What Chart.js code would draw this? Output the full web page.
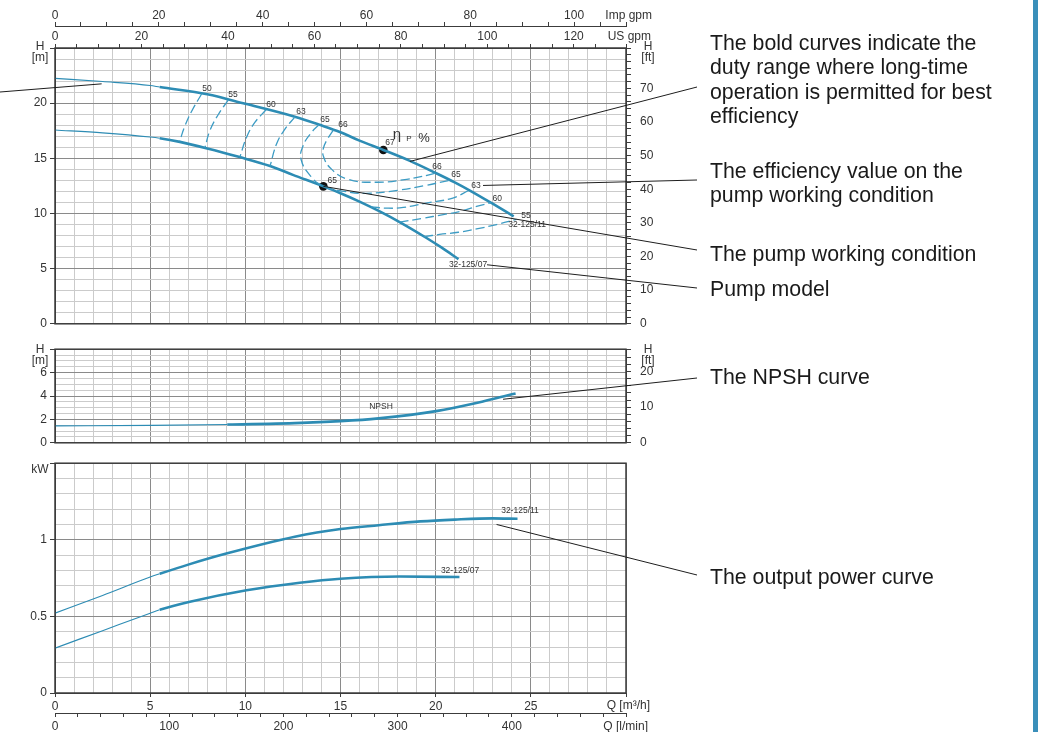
<!DOCTYPE html>
<html><head><meta charset="utf-8">
<script src="https://cdn.jsdelivr.net/npm/chart.js@4.4.1/dist/chart.umd.min.js"></script>
<style>
body{margin:0;background:#fff;width:1038px;height:732px;overflow:hidden;position:relative;font-family:"Liberation Sans",Arial,Helvetica,sans-serif;}
canvas{position:absolute;left:0;}
.note{position:absolute;left:710px;font-size:21.3px;line-height:24.3px;color:#1a1a1a;white-space:nowrap;}
#bar{position:absolute;left:1033px;top:0;width:5px;height:732px;background:#3a8fba;}
</style></head><body>
<canvas id="c1" width="1038" height="340" style="top:0px"></canvas>
<canvas id="c2" width="1038" height="126" style="top:333px"></canvas>
<canvas id="c3" width="1038" height="279" style="top:453px"></canvas>
<div class="note" style="top:31px">The bold curves indicate the<br>duty range where long-time<br>operation is permitted for best<br>efficiency</div>
<div class="note" style="top:159px">The efficiency value on the<br>pump working condition</div>
<div class="note" style="top:242px">The pump working condition</div>
<div class="note" style="top:277px">Pump model</div>
<div class="note" style="top:365px">The NPSH curve</div>
<div class="note" style="top:565px">The output power curve</div>
<div id="bar"></div>
<script>
// ---------------- data ----------------
// Q in m3/h, H in m
const Q11 = [0, 2.5, 5, 5.5, 8, 10, 12.6, 13.9, 15, 16, 17.25, 18.65, 20.06, 21, 21.8, 22.95, 24.1];
const H11 = [22.25, 21.96, 21.6, 21.46, 20.8, 19.94, 18.77, 18.04, 17.37, 16.6, 15.76, 14.77, 13.62, 12.82, 12.08, 10.93, 9.74];
const Q07 = [0, 2.5, 5, 5.5, 6.56, 8, 9.7, 11.3, 12.5, 14.1, 15, 16, 17.06, 18.13, 19.5, 20.3, 21.2];
const H07 = [17.57, 17.31, 16.93, 16.82, 16.49, 15.9, 15.11, 14.3, 13.5, 12.46, 11.84, 11.08, 10.19, 9.2, 7.8, 6.92, 5.86];
const BOLD_FROM = 5.5;

// iso-efficiency curves (dashed)
const e50Q = [7.71, 7.18, 6.83, 6.55],   e50H = [20.85, 19.27, 17.95, 16.55];
const e55Q = [9.11, 8.58, 8.14, 7.88],   e55H = [20.3, 18.97, 17.52, 15.97];
const e60Q = [11.09, 10.5, 10.07, 9.72], e60H = [19.4, 18.25, 16.93, 15.15];
const e63Q = [12.61, 12.09, 11.65, 11.3], e63H = [18.76, 17.66, 16.34, 14.3];
const e65Q = [13.87, 13.49, 13.05, 12.93, 13.49, 14.1, 15.2, 16.38, 18.0, 19.4, 20.76];
const e65H = [18.04, 17.37, 16.2, 14.89, 13.27, 12.46, 12.0, 11.83, 12.1, 12.52, 13.02];
const e66Q = [14.62, 14.3, 14.1, 14.1, 14.45, 15.33, 16.9, 18.48, 19.7, 20.02];
const e66H = [17.55, 16.7, 15.9, 15.2, 14.15, 13.13, 12.83, 13.1, 13.52, 13.66];
const e63RQ = [16.6, 17.5, 18.3, 19.5, 20.9, 21.75], e63RH = [10.6, 10.48, 10.55, 10.94, 11.4, 12.1];
const e60RQ = [18.1, 19.3, 20.4, 21.3, 22.15, 22.9], e60RH = [9.22, 9.56, 9.9, 10.2, 10.64, 10.98];
const e55RQ = [19.4, 20.2, 21.2, 22.15, 23.2, 24.25], e55RH = [7.9, 8.1, 8.3, 8.6, 9.0, 9.47];

const effText = ['50','55','60','63','65','66','67','66','65','63','60','55','65'];
const effQ = [7.99, 9.35, 11.35, 12.93, 14.19, 15.13, 17.6, 20.07, 21.07, 22.12, 23.23, 24.75, 14.56];
const effH = [21.3, 20.8, 19.9, 19.2, 18.5, 18.07, 16.4, 14.2, 13.5, 12.54, 11.3, 9.82, 12.98];

const bestQ = [17.25], bestH = [15.76];     // best efficiency point (67 %)
const workQ = [14.1],  workH = [12.46];     // pump working condition (65 %)

// NPSH [m]
const QN = [0, 5.07, 9.05, 12.6, 15, 17, 20.1, 21.9, 23.6, 24.2];
const NP = [1.45, 1.49, 1.56, 1.68, 1.85, 2.09, 2.73, 3.32, 3.98, 4.22];
const NPSH_BOLD = 9.05;

// Output power [kW]
const QP11 = [0, 2.5, 5, 5.5, 7, 9, 12.6, 15, 17, 19.2, 21, 23, 24.3];
const P11  = [0.521, 0.637, 0.757, 0.778, 0.838, 0.91, 1.02, 1.07, 1.095, 1.12, 1.132, 1.14, 1.137];
const QP07 = [0, 2.5, 5, 5.5, 7.09, 10.06, 12.86, 15, 18.1, 21.25];
const P07  = [0.293, 0.407, 0.521, 0.543, 0.596, 0.671, 0.72, 0.746, 0.76, 0.757];

const models = ['32-125/11', '32-125/07'];

// unit conversions for the secondary axes
const USGPM = 4.402868, IMPGPM = 3.666154, LMIN = 50 / 3, FT = 3.28084;
const QMAX = 30, HMAX = 25, NMAX = 8, PMAX = 1.5;

// ---------------- styling ----------------
Chart.defaults.font.family = '"Liberation Sans", Arial, Helvetica, sans-serif';
Chart.defaults.font.size = 12;
Chart.defaults.color = '#333';
const TEAL = '#2d8cb4', TEALD = '#3d9cc4', MINOR = '#cbcbcb', MAJOR = '#8a8a8a', AX = '#3c3c3c';
const TOP2 = 333, TOP3 = 453;

function isMult(v, m){ const r = v / m; return Math.abs(r - Math.round(r)) < 2e-3; }
function gridColor(m){ return c => (c.tick && isMult(c.tick.value, m)) ? MAJOR : MINOR; }
function tickCol(m){ return c => (c.tick && isMult(c.tick.value, m)) ? AX : 'rgba(0,0,0,0)'; }
function labelCb(m, maxShown){
  return v => { if (!isMult(v, m)) return ''; const r = +(Math.round(v / m) * m).toFixed(2); return r <= maxShown + 1e-9 ? String(r) : ''; };
}
function pts(Q, V){ return Q.map((q, i) => ({x: q, y: V[i]})); }
function curve(Q, V, boldFrom){
  return {data: pts(Q, V), showLine: true, pointRadius: 0, borderColor: TEAL, borderWidth: 2.6,
    cubicInterpolationMode: 'monotone', fill: false,
    segment: {borderWidth: c => c.p0.parsed.x >= boldFrom - 1e-9 ? 2.6 : 1.1}};
}
function dashed(Q, V){
  return {data: pts(Q, V), showLine: true, pointRadius: 0, borderColor: TEALD, borderWidth: 1.3,
    borderDash: [9, 4], tension: 0.45, fill: false};
}
function dot(Q, V){
  return {data: pts(Q, V), showLine: false, pointRadius: 4.3, pointBackgroundColor: '#111', pointBorderWidth: 0};
}
function txt(c, s, x, y, size, align, color){
  c.font = size + 'px "Liberation Sans", Arial, sans-serif';
  c.fillStyle = color || '#333'; c.textAlign = align || 'center'; c.textBaseline = 'middle';
  c.fillText(s, x, y);
}
function frame(chart){
  const a = chart.chartArea, c = chart.ctx;
  c.strokeStyle = AX; c.lineWidth = 1.5;
  c.strokeRect(a.left, a.top, a.right - a.left, a.bottom - a.top);
}
function leader(c, x0, y0, x1, y1){
  c.strokeStyle = '#1e1e1e'; c.lineWidth = 1;
  c.beginPath(); c.moveTo(x0, y0); c.lineTo(x1, y1); c.stroke();
}
const xGrid = (h) => ({type: 'linear', position: 'bottom', min: 0, max: QMAX, bounds: 'data', weight: 1,
  ticks: {display: false, stepSize: 1, autoSkip: false},
  grid: {color: gridColor(5), drawTicks: false}, border: {display: false},
  afterFit: s => { s.height = h; }});
const baseOpts = {responsive: false, animation: false, devicePixelRatio: 1,
  plugins: {legend: {display: false}, tooltip: {enabled: false}}, events: []};

// ---------------- chart 1 : head ----------------
new Chart(document.getElementById('c1'), {
  type: 'scatter',
  data: {datasets: [
    dashed(e50Q, e50H), dashed(e55Q, e55H), dashed(e60Q, e60H), dashed(e63Q, e63H),
    dashed(e65Q, e65H), dashed(e66Q, e66H), dashed(e63RQ, e63RH), dashed(e60RQ, e60RH), dashed(e55RQ, e55RH),
    curve(Q11, H11, BOLD_FROM), curve(Q07, H07, BOLD_FROM),
    dot(bestQ, bestH), dot(workQ, workH)
  ]},
  options: Object.assign({}, baseOpts, {
    layout: {padding: 0},
    scales: {
      x: xGrid(7),
      xUS: {type: 'linear', position: 'top', min: 0, max: QMAX * USGPM, bounds: 'data', weight: 1,
        ticks: {stepSize: 5, autoSkip: false, maxRotation: 0, minRotation: 0, padding: 0, callback: labelCb(20, 120)},
        grid: {drawOnChartArea: false, tickLength: 4, tickColor: AX}, border: {color: AX},
        afterFit: s => { s.height = 22; }},
      xImp: {type: 'linear', position: 'top', min: 0, max: QMAX * IMPGPM, bounds: 'data', weight: 2,
        ticks: {stepSize: 5, autoSkip: false, maxRotation: 0, minRotation: 0, padding: -1, callback: labelCb(20, 100)},
        grid: {drawOnChartArea: false, tickLength: 4, tickColor: AX}, border: {color: AX},
        afterFit: s => { s.height = 26; }},
      y: {type: 'linear', position: 'left', min: 0, max: HMAX, bounds: 'data',
        ticks: {stepSize: 1, autoSkip: false, padding: 3, callback: labelCb(5, 20)},
        grid: {color: gridColor(5), tickLength: 5, tickColor: tickCol(5)}, border: {color: AX},
        afterFit: s => { s.width = 55; }},
      yFt: {type: 'linear', position: 'right', min: 0, max: HMAX * FT, bounds: 'data',
        ticks: {stepSize: 2, autoSkip: false, padding: 9, callback: labelCb(10, 70)},
        grid: {drawOnChartArea: false, tickLength: 5, tickColor: AX}, border: {color: AX},
        afterFit: s => { s.width = 412; }}
    }
  }),
  plugins: [{id: 'deco1', afterDraw(chart){
    const c = chart.ctx, a = chart.chartArea, X = chart.scales.x, Y = chart.scales.y;
    const px = q => X.getPixelForValue(q), py = h => Y.getPixelForValue(h);
    c.save();
    frame(chart);
    effText.forEach((t, i) => txt(c, t, px(effQ[i]), py(effH[i]), 8.5));
    txt(c, models[0], px(24.8), py(8.95), 8.5);
    txt(c, models[1], px(21.7), py(5.35), 8.5);
    const ex = px(17.97), ey = py(17.2);
    txt(c, 'η', ex, ey + 1, 15); txt(c, 'P', ex + 12, ey + 5, 8); txt(c, '%', ex + 27, ey + 4, 13);
    txt(c, 'H', a.left - 15, a.top - 1, 12); txt(c, '[m]', a.left - 15, a.top + 9.5, 12);
    txt(c, 'H', a.right + 22, a.top - 1, 12); txt(c, '[ft]', a.right + 22, a.top + 9.5, 12);
    txt(c, 'Imp gpm', a.right + 26, 16, 12, 'right'); txt(c, 'US gpm', a.right + 25, 37, 12, 'right');
    leader(c, 0, 92, px(2.45), py(21.75));
    leader(c, px(18.65), py(14.72), 697, 87);
    leader(c, px(effQ[9]) + 7, py(effH[9]), 697, 180);
    leader(c, px(workQ[0]), py(workH[0]), 697, 250);
    leader(c, px(21.7) + 19, py(5.35), 697, 288);
    c.restore();
  }}]
});

// ---------------- chart 2 : NPSH ----------------
new Chart(document.getElementById('c2'), {
  type: 'scatter',
  data: {datasets: [curve(QN, NP, NPSH_BOLD)]},
  options: Object.assign({}, baseOpts, {
    layout: {padding: {top: 7}},
    scales: {
      x: xGrid(6),
      y: {type: 'linear', position: 'left', min: 0, max: NMAX, bounds: 'data',
        ticks: {stepSize: 0.5, autoSkip: false, padding: 3, callback: labelCb(2, 6)},
        grid: {color: gridColor(2), tickLength: 5, tickColor: tickCol(2)}, border: {color: AX},
        afterFit: s => { s.width = 55; }},
      yFt: {type: 'linear', position: 'right', min: 0, max: NMAX * FT, bounds: 'data',
        ticks: {stepSize: 2, autoSkip: false, padding: 9, callback: labelCb(10, 20)},
        grid: {drawOnChartArea: false, tickLength: 5, tickColor: AX}, border: {color: AX},
        afterFit: s => { s.width = 412; }}
    }
  }),
  plugins: [{id: 'deco2', afterDraw(chart){
    const c = chart.ctx, a = chart.chartArea, X = chart.scales.x, Y = chart.scales.y;
    c.save();
    frame(chart);
    txt(c, 'NPSH', X.getPixelForValue(17.13), Y.getPixelForValue(3.1), 8.5);
    txt(c, 'H', a.left - 15, a.top, 12); txt(c, '[m]', a.left - 15, a.top + 11, 12);
    txt(c, 'H', a.right + 22, a.top, 12); txt(c, '[ft]', a.right + 22, a.top + 11, 12);
    leader(c, X.getPixelForValue(23.54), Y.getPixelForValue(3.72), 697, 378 - TOP2);
    c.restore();
  }}]
});

// ---------------- chart 3 : power ----------------
new Chart(document.getElementById('c3'), {
  type: 'scatter',
  data: {datasets: [curve(QP11, P11, BOLD_FROM), curve(QP07, P07, BOLD_FROM)]},
  options: Object.assign({}, baseOpts, {
    layout: {padding: {top: 6, right: 412}},
    scales: {
      x: {type: 'linear', position: 'bottom', min: 0, max: QMAX, bounds: 'data', weight: 1,
        ticks: {stepSize: 1, autoSkip: false, maxRotation: 0, minRotation: 0, padding: 2, callback: labelCb(5, 25)},
        grid: {color: gridColor(5), tickLength: 4, tickColor: tickCol(5)}, border: {color: AX},
        afterFit: s => { s.height = 20; }},
      xL: {type: 'linear', position: 'bottom', min: 0, max: QMAX * LMIN, bounds: 'data', weight: 2,
        ticks: {stepSize: 20, autoSkip: false, maxRotation: 0, minRotation: 0, padding: 2, callback: labelCb(100, 400)},
        grid: {drawOnChartArea: false, tickLength: 4, tickColor: AX}, border: {color: AX},
        afterFit: s => { s.height = 19; }},
      y: {type: 'linear', position: 'left', min: 0, max: PMAX, bounds: 'data',
        ticks: {stepSize: 0.1, autoSkip: false, padding: 3, callback: labelCb(0.5, 1)},
        grid: {color: gridColor(0.5), tickLength: 5, tickColor: tickCol(0.5)}, border: {color: AX},
        afterFit: s => { s.width = 55; }}
    }
  }),
  plugins: [{id: 'deco3', afterDraw(chart){
    const c = chart.ctx, a = chart.chartArea, X = chart.scales.x, Y = chart.scales.y;
    c.save();
    frame(chart);
    txt(c, models[0], X.getPixelForValue(24.43), Y.getPixelForValue(1.19), 8.5);
    txt(c, models[1], X.getPixelForValue(21.28), Y.getPixelForValue(0.80), 8.5);
    txt(c, 'kW', a.left - 15, a.top + 6, 12);
    txt(c, 'Q [m³/h]', a.right + 24, a.bottom + 13, 12, 'right');
    txt(c, 'Q [l/min]', a.right + 22, a.bottom + 34, 12, 'right');
    leader(c, X.getPixelForValue(23.2), Y.getPixelForValue(1.10), 697, 575 - TOP3);
    c.restore();
  }}]
});
</script>
</body></html>
